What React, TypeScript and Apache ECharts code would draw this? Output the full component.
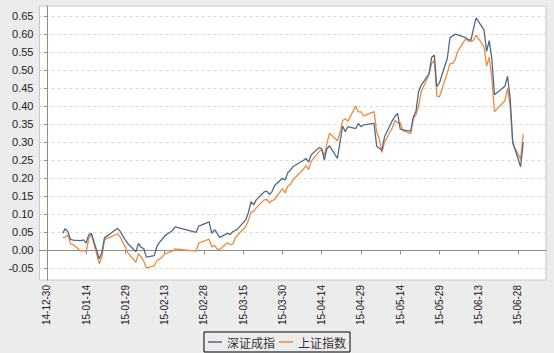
import React, { useEffect, useRef } from "react";
import * as echarts from "echarts";

const dates = [
  "2015-01-05","2015-01-06","2015-01-07","2015-01-08","2015-01-09",
  "2015-01-12","2015-01-13","2015-01-14","2015-01-15","2015-01-16",
  "2015-01-19","2015-01-20","2015-01-21","2015-01-22","2015-01-23",
  "2015-01-26","2015-01-27","2015-01-28","2015-01-29","2015-01-30",
  "2015-02-02","2015-02-03","2015-02-04","2015-02-05","2015-02-06",
  "2015-02-09","2015-02-10","2015-02-11","2015-02-12","2015-02-13",
  "2015-02-16","2015-02-17","2015-02-25","2015-02-26","2015-02-27",
  "2015-03-02","2015-03-03","2015-03-04","2015-03-05","2015-03-06",
  "2015-03-09","2015-03-10","2015-03-11","2015-03-12","2015-03-13",
  "2015-03-16","2015-03-17","2015-03-18","2015-03-19","2015-03-20",
  "2015-03-23","2015-03-24","2015-03-25","2015-03-26","2015-03-27",
  "2015-03-30","2015-03-31","2015-04-01","2015-04-02","2015-04-03",
  "2015-04-07","2015-04-08","2015-04-09","2015-04-10",
  "2015-04-13","2015-04-14","2015-04-15","2015-04-16","2015-04-17",
  "2015-04-20","2015-04-21","2015-04-22","2015-04-23","2015-04-24",
  "2015-04-27","2015-04-28","2015-04-29","2015-04-30",
  "2015-05-04","2015-05-05","2015-05-06","2015-05-07","2015-05-08",
  "2015-05-11","2015-05-12","2015-05-13","2015-05-14","2015-05-15",
  "2015-05-18","2015-05-19","2015-05-20","2015-05-21","2015-05-22",
  "2015-05-25","2015-05-26","2015-05-27","2015-05-28","2015-05-29",
  "2015-06-01","2015-06-02","2015-06-03","2015-06-04","2015-06-05",
  "2015-06-08","2015-06-09","2015-06-10","2015-06-11","2015-06-12",
  "2015-06-15","2015-06-16","2015-06-17","2015-06-18","2015-06-19",
  "2015-06-23","2015-06-24","2015-06-25","2015-06-26",
  "2015-06-29","2015-06-30",
];

// 深证成指 cumulative return
const szValues = [
  0.047, 0.060, 0.052, 0.030, 0.028,
  0.027, 0.029, 0.020, 0.043, 0.047,
  -0.024, -0.006, 0.035, 0.040, 0.045,
  0.061, 0.053, 0.040, 0.028, 0.018,
  -0.004, 0.019, 0.008, 0.005, -0.019,
  -0.015, 0.010, 0.022, 0.030, 0.040,
  0.055, 0.065, 0.050, 0.067, 0.070,
  0.079, 0.047, 0.057, 0.048, 0.036,
  0.047, 0.044, 0.052, 0.055, 0.060,
  0.085, 0.105, 0.135, 0.126, 0.140,
  0.162, 0.164, 0.155, 0.163, 0.180,
  0.200, 0.195, 0.215, 0.222, 0.232,
  0.250, 0.255, 0.245, 0.265,
  0.285, 0.282, 0.250, 0.282, 0.290,
  0.255, 0.300, 0.345, 0.329, 0.343,
  0.338, 0.352, 0.343, 0.348,
  0.352, 0.289, 0.283, 0.278, 0.315,
  0.360, 0.372, 0.380, 0.336, 0.334,
  0.331, 0.370, 0.385, 0.440, 0.458,
  0.490, 0.535, 0.542, 0.454, 0.465,
  0.533, 0.590, 0.595, 0.600, 0.598,
  0.590, 0.585, 0.583, 0.615, 0.645,
  0.612, 0.552, 0.582, 0.532, 0.432,
  0.455, 0.483, 0.422, 0.300,
  0.232, 0.300,
];

// 上证指数 cumulative return
const shValues = [
  0.036, 0.036, 0.043, 0.018, 0.016,
  -0.002, 0.000, -0.004, 0.032, 0.044,
  -0.037, -0.019, 0.028, 0.034, 0.036,
  0.046, 0.037, 0.022, 0.009, -0.008,
  -0.033, -0.009, -0.019, -0.030, -0.049,
  -0.043, -0.029, -0.024, -0.019, -0.010,
  -0.002, 0.004, -0.002, 0.020, 0.023,
  0.031, 0.009, 0.014, 0.004, 0.002,
  0.021, 0.016, 0.017, 0.035, 0.043,
  0.066, 0.083, 0.106, 0.108, 0.118,
  0.140, 0.141, 0.132, 0.138, 0.141,
  0.171, 0.159, 0.178, 0.183, 0.195,
  0.225, 0.235, 0.224, 0.247,
  0.274, 0.279, 0.263, 0.297, 0.325,
  0.304, 0.327, 0.360, 0.365, 0.358,
  0.400, 0.384, 0.384, 0.373,
  0.385, 0.329, 0.308, 0.271, 0.300,
  0.340, 0.361, 0.353, 0.354, 0.332,
  0.324, 0.366, 0.375, 0.400, 0.440,
  0.488, 0.518, 0.528, 0.428, 0.426,
  0.493, 0.518, 0.518, 0.529, 0.553,
  0.587, 0.581, 0.579, 0.583, 0.597,
  0.565, 0.511, 0.536, 0.479, 0.385,
  0.415, 0.450, 0.400, 0.296,
  0.253, 0.322,
];

const seriesNames = ["深证成指", "上证指数"];
const xTickDates = [
  "2014-12-30","2015-01-14","2015-01-29","2015-02-13","2015-02-28",
  "2015-03-15","2015-03-30","2015-04-14","2015-04-29","2015-05-14",
  "2015-05-29","2015-06-13","2015-06-28",
];
const yTicks = [-0.05, 0, 0.05, 0.1, 0.15, 0.2, 0.25, 0.3, 0.35, 0.4, 0.45, 0.5, 0.55, 0.6, 0.65];

const DAY = 86400000;
const BASE = "2014-12-30";
const toTs = (s: string) => {
  const [y, m, d] = s.split("-").map(Number);
  return Date.UTC(y, m - 1, d);
};
// day offset from BASE
const toDay = (s: string) => Math.round((toTs(s) - toTs(BASE)) / DAY);
const pad = (n: number) => (n < 10 ? "0" + n : "" + n);
const fmtDay = (v: number) => {
  const dt = new Date(toTs(BASE) + Math.round(v) * DAY);
  return `${pad(dt.getUTCFullYear() % 100)}-${pad(dt.getUTCMonth() + 1)}-${pad(dt.getUTCDate())}`;
};

export default function App() {
  const ref = useRef<HTMLDivElement>(null);
  useEffect(() => {
    if (!ref.current) return;
    const chart = echarts.init(ref.current, undefined, { renderer: "svg" });
    const xTicks = xTickDates.map(toDay);
    const fontFamily = "'Liberation Sans', Arial, sans-serif";
    chart.setOption({
      animation: false,
      backgroundColor: "#ececec",
      grid: {
        left: 39.5,
        right: 8,
        top: 6,
        bottom: 73,
        show: true,
        backgroundColor: "#ffffff",
        borderColor: "#c8c8c8",
        borderWidth: 1,
      },
      legend: {
        data: seriesNames,
        left: "center",
        bottom: 1,
        orient: "horizontal",
        borderColor: "#000000",
        borderWidth: 1,
        padding: [4, 4, 4, 4],
        itemGap: 4,
        itemWidth: 14,
        itemHeight: 1.5,
        icon: "rect",
        textStyle: {
          fontFamily: "'Noto Sans CJK SC', sans-serif",
          fontSize: 12,
          color: "#333",
        },
      },
      xAxis: {
        type: "value",
        min: -2.83,
        max: 190.7,
        splitLine: { show: false },
        axisLine: { show: true, lineStyle: { color: "#8c8c8c", width: 1 } },
        axisTick: { show: true, length: 4, customValues: xTicks, lineStyle: { color: "#8c8c8c" } },
        axisLabel: {
          customValues: xTicks,
          rotate: 90,
          margin: 5,
          fontSize: 10,
          color: "#222",
          fontFamily,
          formatter: (v: number) => fmtDay(v),
        },
      },
      yAxis: {
        type: "value",
        min: -0.0824,
        max: 0.678,
        axisLine: { show: true, lineStyle: { color: "#8c8c8c", width: 1 } },
        axisTick: { show: true, length: 3, customValues: yTicks, lineStyle: { color: "#8c8c8c" } },
        axisLabel: {
          customValues: yTicks,
          margin: 6,
          fontSize: 11,
          color: "#222",
          fontFamily,
          formatter: (v: number) => v.toFixed(2),
        },
        splitLine: {
          show: true,
          lineStyle: { color: "#d9d9d9", type: [3, 3], width: 1 },
        },
      },
      series: [
        {
          name: seriesNames[0],
          type: "line",
          symbol: "none",
          data: dates.map((d, i) => [toDay(d), szValues[i]]),
          lineStyle: { color: "#4d6a8c", width: 1.3 },
          itemStyle: { color: "#4d6a8c" },
          z: 3,
        },
        {
          name: seriesNames[1],
          type: "line",
          symbol: "none",
          data: dates.map((d, i) => [toDay(d), shValues[i]]),
          lineStyle: { color: "#ef8a3c", width: 1.3 },
          itemStyle: { color: "#ef8a3c" },
          z: 2,
        },
      ],
    });
    return () => chart.dispose();
  }, []);
  return (
    <div
      ref={ref}
      style={{ position: "fixed", left: 0, top: 0, width: 554, height: 353 }}
    />
  );
}
